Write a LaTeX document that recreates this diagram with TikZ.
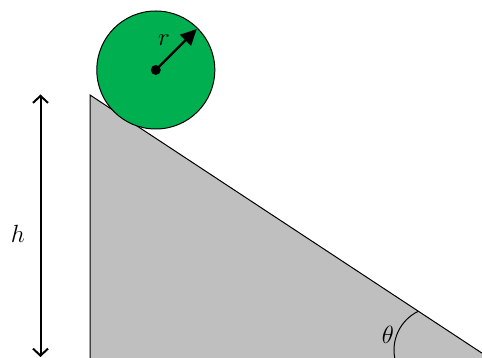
\documentclass[tikz,border=0pt]{standalone}
\usetikzlibrary{arrows.meta,calc}
\definecolor{ballgreen}{HTML}{00B050}
\definecolor{rampgray}{HTML}{BFBFBF}
\begin{document}
\begin{tikzpicture}[x=1pt,y=1pt,
  lbl/.style={font=\fontsize{24.88}{30}\selectfont, inner sep=0pt},
  thinline/.style={draw=black, line width=1pt},
  dimarrow/.style={line width=2pt, {Straight Barb[length=7pt,width=15pt]}-{Straight Barb[length=7pt,width=15pt]}},
  radarrow/.style={line width=2.4pt, -{Triangle[length=16pt,width=15pt]}}]
\useasboundingbox (0,0) rectangle (482,358);
\clip (0,0) rectangle (482,358);
% ramp
\coordinate (top) at (90,263);
\coordinate (br) at (500,-7);
\coordinate (bl) at (90,-7);
\filldraw[fill=rampgray, thinline] (top) -- (br) -- (bl) -- cycle;
% angle arc
\coordinate (arcc) at (437,8);
\draw[thinline] ([shift={(195:43)}]arcc) arc[start angle=195, end angle=116, radius=43];
\node[lbl] (theta) at (388,23.5) {$\theta$};
% ball
\node[circle, fill=ballgreen, thinline, minimum size=118pt, inner sep=0pt] (ball) at (155.8,288) {};
\fill (ball.center) circle[radius=5];
\coordinate (rtip) at ($(ball.center)+(45:58)$);
\draw[radarrow] (ball.center) -- (rtip);
\node[lbl] (r) at (164,318) {$r$};
% height
\coordinate (htop) at (40.5,263.5);
\coordinate (hbot) at (40.5,1);
\draw[dimarrow] (hbot) -- (htop);
\node[lbl] (h) at (18,124) {$h$};
\end{tikzpicture}
\end{document}
